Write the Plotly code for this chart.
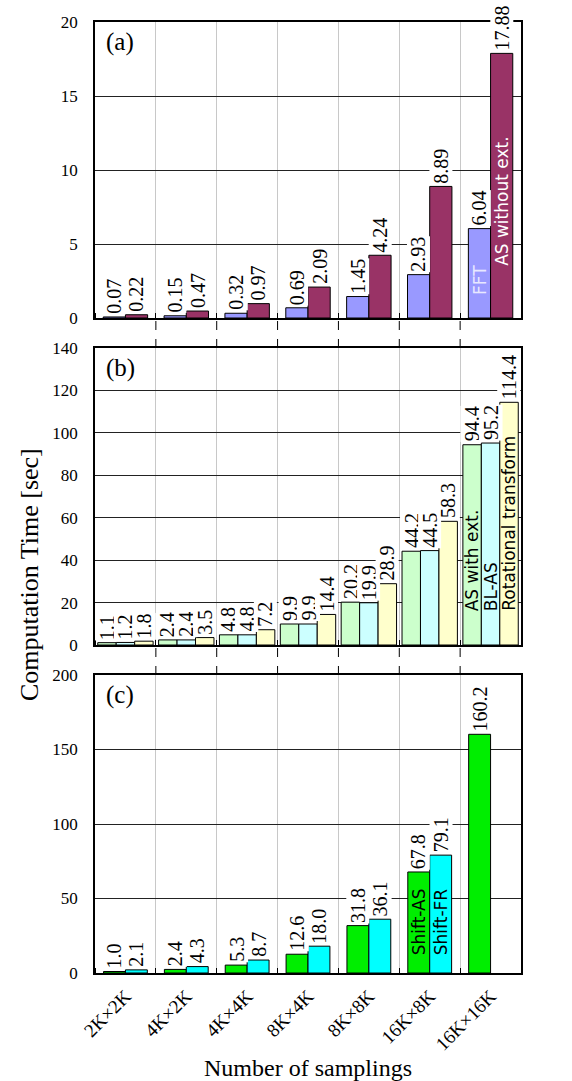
import plotly.graph_objects as go

categories = ["2K×2K", "4K×2K", "4K×4K", "8K×4K", "8K×8K", "16K×8K", "16K×16K"]

# panel (a)
fft = [0.07, 0.15, 0.32, 0.69, 1.45, 2.93, 6.04]
as_without_ext = [0.22, 0.47, 0.97, 2.09, 4.24, 8.89, 17.88]
# panel (b)
as_with_ext = [1.1, 2.4, 4.8, 9.9, 20.2, 44.2, 94.4]
bl_as = [1.2, 2.4, 4.8, 9.9, 19.9, 44.5, 95.2]
rotational = [1.8, 3.5, 7.2, 14.4, 28.9, 58.3, 114.4]
# panel (c)
shift_as = [1.0, 2.4, 5.3, 12.6, 31.8, 67.8, 160.2]
shift_fr = [2.1, 4.3, 8.7, 18.0, 36.1, 79.1, None]

SERIF = "Liberation Serif, Times New Roman, Times, serif"
SANS = "DejaVu Sans, Verdana, sans-serif"

W, H = 572, 1081
ML, MT = 95, 22
MR = W - 521
MB = H - 973
PH = H - MT - MB
PW = W - ML - MR


def py(screen_y):
    return (H - MB - screen_y) / PH


def pdom(top_px, bot_px):
    return [py(bot_px), py(top_px)]


doms = [pdom(22, 318), pdom(348, 645), pdom(675, 973)]

panels = [
    dict(series=[fft, as_without_ext], names=["FFT", "AS without ext."],
         colors=["#9999FF", "#993366"], fmt="{:.2f}", gw=0.73,
         yrange=[0, 20], dtick=5, letter="(a)", label_group=6,
         labels=[("FFT", 1.45, "#E8E8FF"), ("AS without ext.", 3.4, "white")]),
    dict(series=[as_with_ext, bl_as, rotational],
         names=["AS with ext.", "BL-AS", "Rotational transform"],
         colors=["#CCFFCC", "#CCFFFF", "#FFFFCC"], fmt="{:.1f}", gw=0.91,
         yrange=[0, 140], dtick=20, letter="(b)", label_group=6,
         labels=[("AS with ext.", 15.0, "black"), ("BL-AS", 15.0, "black"),
                 ("Rotational transform", 15.0, "black")]),
    dict(series=[shift_as, shift_fr], names=["Shift-AS", "Shift-FR"],
         colors=["#00EE00", "#00FFFF"], fmt="{:.1f}", gw=0.72,
         yrange=[0, 200], dtick=50, letter="(c)", label_group=5,
         labels=[("Shift-AS", 10.7, "black"), ("Shift-FR", 10.7, "black")]),
]

xs = list(range(len(categories)))
fig = go.Figure()
annotations = []
shapes = []

for p_i, p in enumerate(panels):
    n = len(p["series"])
    w = p["gw"] / n
    sfx = "" if p_i == 0 else str(p_i + 1)
    for s_i, (vals, nm, col) in enumerate(zip(p["series"], p["names"], p["colors"])):
        off = -p["gw"] / 2 + s_i * w
        fig.add_trace(go.Bar(
            x=xs, y=vals, name=nm, width=w, offset=off,
            marker=dict(color=col, line=dict(color="black", width=1)),
            xaxis="x" + sfx, yaxis="y" + sfx, showlegend=False,
        ))
        for x, v in zip(xs, vals):
            if v is None:
                continue
            annotations.append(dict(
                x=x + off + w / 2, y=v, xref="x" + sfx, yref="y" + sfx,
                text=p["fmt"].format(v), textangle=-90, showarrow=False,
                xanchor="center", yanchor="bottom", yshift=2,
                bgcolor="white", borderpad=0,
                font=dict(family=SERIF, size=20, color="black"),
            ))
        lab, ly, lc = p["labels"][s_i]
        annotations.append(dict(
            x=xs[p["label_group"]] + off + w / 2, y=ly, xref="x" + sfx, yref="y" + sfx,
            text=lab, textangle=-90, showarrow=False,
            xanchor="center", yanchor="bottom",
            font=dict(family=SANS, size=17, color=lc),
        ))
    annotations.append(dict(
        x=0.02, y=0.985, xref="x" + sfx + " domain", yref="y" + sfx + " domain",
        text=p["letter"], showarrow=False, xanchor="left", yanchor="top",
        font=dict(family=SERIF, size=25, color="black"),
    ))

layout = dict(
    width=W, height=H, margin=dict(l=ML, r=MR, t=MT, b=MB, autoexpand=False),
    paper_bgcolor="white", plot_bgcolor="white", barmode="overlay",
    font=dict(family=SERIF, color="black"),
)

for p_i, p in enumerate(panels):
    sfx = "" if p_i == 0 else str(p_i + 1)
    layout["xaxis" + sfx] = dict(
        domain=[0, 1], anchor="y" + sfx, range=[-0.5, len(categories) - 0.5],
        tickvals=xs, ticktext=categories, showticklabels=(p_i == 2),
        tickangle=-45, tickfont=dict(family=SERIF, size=19, color="black"),
        ticklabelstandoff=3,
        showgrid=False, zeroline=False, ticks="", automargin=False,
        showline=True, mirror=True, linecolor="black", linewidth=1.5,
        minor=dict(tick0=0.5, dtick=1, showgrid=True, gridcolor="#C8C8C8",
                   gridwidth=1, ticks="inside", ticklen=5, tickcolor="black"),
    )
    layout["yaxis" + sfx] = dict(
        domain=doms[p_i], anchor="x" + sfx, range=p["yrange"], dtick=p["dtick"],
        showgrid=True, gridcolor="#222222", gridwidth=1, zeroline=False,
        showline=True, mirror=True, linecolor="black", linewidth=1.5,
        ticks="", ticklabelstandoff=12, automargin=False,
        tickfont=dict(family=SERIF, size=17, color="black"),
    )

for k in range(len(categories) - 1):
    for upper, lower in [(0, 1), (1, 2)]:
        shapes.append(dict(
            type="line", xref="x", yref="paper",
            x0=k + 0.5, x1=k + 0.5, y0=doms[lower][1], y1=doms[upper][0],
            line=dict(color="black", width=1, dash="dash"), layer="below",
        ))

annotations.append(dict(
    x=(30 - ML) / PW, y=py(575), xref="paper", yref="paper",
    text="Computation Time [sec]", textangle=-90, showarrow=False,
    xanchor="center", yanchor="middle",
    font=dict(family=SERIF, size=26, color="black"),
))
annotations.append(dict(
    x=(308 - ML) / PW, y=py(1068), xref="paper", yref="paper",
    text="Number of samplings", showarrow=False,
    xanchor="center", yanchor="middle",
    font=dict(family=SERIF, size=24, color="black"),
))

layout["annotations"] = annotations
layout["shapes"] = shapes
fig.update_layout(**layout)
fig.write_html(
    "out.html",
    config={"displayModeBar": False},
    post_script="document.body.style.margin='0';document.body.style.overflow='hidden';",
)
